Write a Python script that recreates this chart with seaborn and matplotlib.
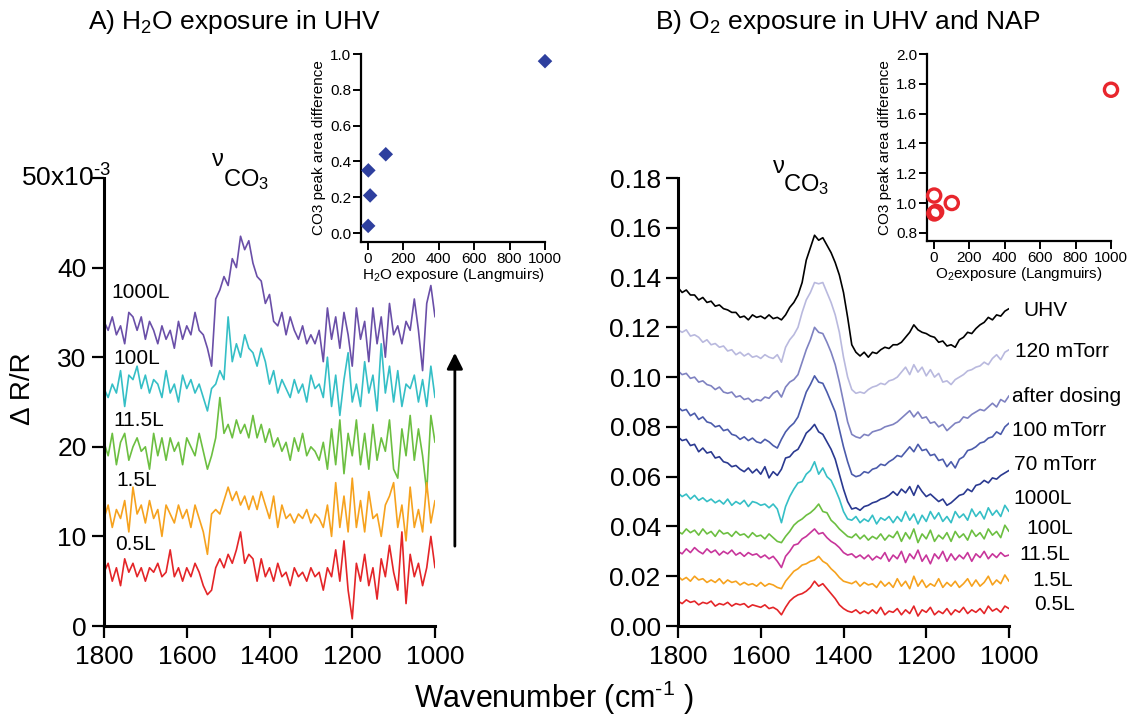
import numpy as np
import pandas as pd
import seaborn as sns
import matplotlib.pyplot as plt

W, H = 1129, 717

# x grid of the spectra (cm-1), 10 cm-1 steps
wavenumber = np.arange(1800, 999, -10)

# panel A - H2O exposure in UHV, dR/R in units of 1e-3
h2o_labels = ['1000L', '100L', '11.5L', '1.5L', '0.5L']
h2o_colors = ['#6a4fa8', '#35bfc6', '#6cbf41', '#f6a21e', '#e42528']
h2o_1000 = [34.0, 33.0, 34.5, 32.5, 33.5, 31.5, 35.0, 34.5, 33.0, 34.5,
            32.0, 34.0, 33.0, 31.5, 33.5, 32.0, 33.0, 31.0, 34.0, 32.0,
            33.5, 32.5, 35.0, 33.0, 32.5, 31.0, 29.0, 36.5, 37.5, 39.0,
            38.0, 41.0, 40.0, 43.5, 42.0, 43.0, 40.5, 39.0, 38.5, 36.0,
            37.0, 34.0, 33.5, 35.0, 32.5, 34.5, 33.0, 32.0, 33.5, 31.5,
            32.5, 31.5, 33.0, 29.5, 35.5, 32.0, 34.5, 31.0, 35.0, 32.5,
            29.0, 35.5, 32.0, 34.0, 29.5, 35.5, 31.5, 34.5, 30.0, 36.0,
            32.5, 33.5, 31.5, 34.0, 33.0, 36.5, 33.0, 28.5, 36.0, 38.0,
            34.5]
h2o_100 = [26.5, 25.5, 27.0, 26.0, 28.5, 24.5, 28.0, 27.5, 29.0, 26.5,
           28.0, 26.0, 27.5, 27.0, 25.5, 28.5, 26.0, 27.0, 25.0, 28.0,
           26.5, 27.5, 26.0, 27.0, 25.5, 24.0, 26.5, 27.0, 28.5, 27.5,
           34.5, 29.5, 31.5, 30.0, 32.5, 31.0, 30.5, 29.0, 31.0, 29.5,
           27.0, 28.5, 26.0, 27.5, 26.5, 25.5, 27.5, 26.0, 27.0, 25.0,
           28.0, 26.5, 27.0, 25.5, 30.0, 24.5, 28.0, 23.5, 27.5, 30.5,
           25.0, 27.0, 24.5, 29.5, 26.0, 28.0, 24.0, 31.5, 26.0, 29.0,
           25.0, 28.5, 24.5, 27.0, 26.5, 28.0, 25.0, 27.5, 24.5, 29.0,
           25.5]
h2o_11_5 = [20.5, 19.0, 21.5, 18.0, 20.5, 21.5, 18.5, 20.0, 21.0, 19.5,
            20.0, 17.5, 21.5, 19.0, 21.0, 18.5, 21.0, 19.5, 20.5, 18.0,
            21.0, 20.0, 19.0, 21.5, 19.5, 17.5, 19.0, 21.0, 25.5, 21.5,
            22.5, 21.0, 23.0, 21.5, 22.5, 21.0, 23.5, 21.0, 22.5, 20.5,
            22.0, 20.0, 21.0, 19.5, 20.5, 18.5, 21.0, 19.5, 21.5, 19.0,
            20.0, 19.5, 18.5, 20.5, 17.5, 22.0, 18.0, 23.0, 17.0, 21.5,
            19.0, 23.0, 18.0, 21.5, 17.5, 22.5, 18.5, 21.0, 19.5, 23.0,
            17.5, 16.5, 22.0, 19.0, 23.5, 18.5, 22.0, 19.0, 15.0, 23.5,
            20.5]
h2o_1_5 = [12.0, 13.5, 11.0, 13.0, 12.0, 14.0, 10.5, 15.5, 12.5, 13.5,
           11.5, 14.0, 12.0, 13.0, 10.0, 13.5, 12.5, 11.5, 13.5, 12.0,
           13.0, 11.0, 13.5, 12.0, 10.5, 8.0, 12.5, 13.0, 12.5, 14.0,
           15.5, 14.0, 15.0, 13.5, 14.5, 13.0, 14.5, 13.0, 15.0, 13.5,
           12.0, 14.5, 11.0, 13.5, 12.0, 12.5, 11.5, 12.5, 12.0, 13.0,
           11.5, 12.5, 12.0, 11.0, 13.5, 10.0, 16.0, 11.0, 14.5, 10.5,
           16.5, 11.0, 14.0, 10.5, 15.0, 12.0, 12.5, 10.0, 13.5, 14.5,
           16.0, 11.0, 13.5, 9.5, 15.5, 11.0, 13.0, 10.5, 16.0, 11.5,
           14.0]
h2o_0_5 = [6.0, 7.0, 5.0, 6.5, 4.5, 7.5, 6.0, 7.0, 5.5, 6.5,
           5.0, 6.5, 6.0, 7.0, 5.5, 6.0, 8.5, 5.5, 6.5, 5.0,
           6.5, 5.5, 7.0, 6.0, 4.5, 3.5, 4.0, 6.5, 7.5, 6.5,
           8.0, 7.0, 8.5, 10.5, 7.0, 8.0, 7.5, 5.0, 7.5, 5.5,
           6.5, 5.0, 7.0, 5.5, 6.0, 4.5, 6.5, 5.5, 6.0, 5.0,
           6.5, 5.5, 6.0, 4.0, 6.5, 5.5, 8.5, 5.0, 9.5, 4.0,
           0.8, 7.0, 5.0, 8.0, 4.5, 6.5, 3.0, 7.5, 5.5, 9.0,
           6.0, 4.0, 10.5, 2.5, 8.0, 5.5, 7.0, 4.5, 6.5, 10.0,
           6.5]

# panel B - O2 exposure in UHV and NAP, dR/R in units of 1e-3
o2_labels = ['UHV', '120 mTorr', 'after dosing', '100 mTorr', '70 mTorr',
             '1000L', '100L', '11.5L', '1.5L', '0.5L']
o2_colors = ['#000000', '#b9b9de', '#7f82c1', '#4b5bab', '#2a3990',
             '#35bfc6', '#6cbf41', '#c8359b', '#f6a21e', '#e42528']
o2_uhv = [136, 134, 135, 133, 133, 131, 132, 130, 130.5, 128.5,
          129, 127.5, 127, 126, 126, 124, 124.5, 123, 125, 124,
          124.5, 123.5, 125, 123.5, 124, 123, 125, 128, 130, 133,
          138, 147, 152, 157, 155, 156, 153, 150, 146, 141,
          134, 124, 113, 110, 108.5, 110, 108, 110, 109.5, 111,
          112, 111.5, 113, 113, 114, 116, 118, 121, 119, 118,
          117.5, 116.5, 116, 114, 114.5, 112.5, 113, 112, 115, 116,
          118, 117.5, 119.5, 121, 122, 124, 123, 125, 124.5, 126.5,
          127.5]
o2_120 = [119, 118, 119, 116.5, 117, 116, 114, 115, 113, 113.5,
          112, 112.5, 110.5, 111, 109, 110, 108.5, 109.5, 108, 108.5,
          107.5, 109, 108, 107.5, 109, 106, 112, 115, 117, 120,
          126, 131, 134, 138, 137.5, 138, 134, 130, 125, 118,
          108, 100, 95, 93.5, 94, 93.5, 95, 96, 96.5, 97.5,
          97, 98.5, 99, 100, 102, 104, 101, 105, 102, 104,
          100.5, 103, 100, 101.5, 98, 98.5, 97, 99, 100, 101,
          102.5, 103, 104, 104.5, 106, 105, 107.5, 109, 107, 110,
          111]
o2_after = [102.5, 101, 101.5, 99.5, 100, 98, 98.5, 97, 96.5, 95,
            96, 94, 93.5, 94, 92, 92.5, 91, 91.5, 90, 91,
            90.5, 92, 91.5, 93.5, 94.5, 92, 96, 98, 99, 101,
            106, 111, 115, 120, 118, 117.5, 114, 110, 105, 98,
            90, 82, 77, 76, 75.5, 77, 76.5, 78, 78.5, 79,
            80, 80.5, 81, 82, 83.5, 85, 86.5, 84, 86, 83.5,
            84, 81.5, 82, 80, 81, 78.5, 80, 81.5, 82, 84,
            83.5, 85, 86, 87, 86.5, 88, 89.5, 88, 91, 90,
            92.5]
o2_100m = [88, 86.5, 87, 84.5, 85.5, 83, 84, 82, 81.5, 80,
           80.5, 78.5, 79, 77, 76.5, 75, 76, 74.5, 75.5, 74,
           73.5, 75, 74, 72.5, 71.5, 75, 78, 80, 81.5, 84,
           89, 94, 97, 100.5, 98, 97.5, 94, 90, 86, 79,
           72, 66, 61, 60, 60.5, 62, 61.5, 63, 63.5, 65,
           64.5, 66, 67, 68.5, 68, 70, 72, 70, 73, 70.5,
           71, 68.5, 69, 66.5, 67, 64, 66, 63.5, 67, 68,
           70.5, 71, 72, 73.5, 74, 75.5, 76, 78, 77, 80,
           81.5]
o2_70m = [76, 74.5, 75, 72.5, 73, 70, 71.5, 69.5, 70, 67.5,
          68, 66, 65.5, 64, 64.5, 63, 62, 63.5, 61.5, 63,
          61, 64, 59.5, 62, 60.5, 63, 67.5, 68, 70, 71,
          74, 77.5, 79, 81, 78, 77, 74, 71, 67, 61,
          55, 50, 47, 47.5, 46.5, 48, 48.5, 49.5, 50, 51,
          51.5, 52.5, 54, 52.5, 55, 53.5, 56, 52.5, 56.5, 54,
          52, 53, 51.5, 50, 51, 48.5, 49.5, 51, 52.5, 53,
          55, 54, 56.5, 57, 58.5, 57.5, 59.5, 59, 60.5, 61.5,
          62.5]
o2_1000 = [53.5, 52, 53, 51, 52.5, 50.5, 51.5, 50, 51, 49.5,
           50.5, 49, 51, 48.5, 50, 49, 50.5, 48, 50, 49.5,
           48.5, 49, 47.5, 49, 47, 41.5, 48, 52, 55, 57.5,
           58, 61, 62.5, 66, 61, 63.5, 60, 58.5, 55, 51,
           46, 43, 42.5, 44, 41.5, 43, 42, 44.5, 41, 43.5,
           42.5, 44, 41.5, 44, 42, 46, 42.5, 45, 41, 44.5,
           42, 46, 43, 45.5, 42, 44, 41.5, 46, 43.5, 45,
           42.5, 47, 44, 46, 43, 47.5, 44.5, 46.5, 44, 48.5,
           46]
o2_100 = [38, 37, 39, 37.5, 38.5, 36.5, 39, 37, 38, 36,
          38.5, 37, 37.5, 36, 38, 36.5, 37, 35.5, 37.5, 36,
          36.5, 35, 37, 35.5, 34, 33.5, 36, 38, 40.5, 42,
          43, 44.5, 45.5, 47, 49, 46, 45.5, 42.5, 41, 39,
          37.5, 36, 35.5, 37, 35, 36.5, 34.5, 36, 35, 37,
          34.5, 36.5, 35.5, 38, 34, 37.5, 35, 39, 33.5, 37,
          35, 38.5, 34, 36.5, 35, 37.5, 34, 38, 35.5, 37,
          34.5, 38.5, 36, 37.5, 35, 39, 36.5, 38, 35.5, 40.5,
          38]
o2_11_5 = [30, 29, 31, 29.5, 31.5, 30, 29, 31, 29.5, 30.5,
           28.5, 30, 29, 30.5, 28.5, 29.5, 28, 29.5, 28.5, 29,
           27.5, 28.5, 27, 28, 26, 23.5, 28, 30, 32.5, 33,
           35, 36, 37.5, 39, 37, 37.5, 35.5, 34, 33, 31.5,
           29.5, 28.5, 29, 27.5, 28.5, 27, 28.5, 26.5, 28, 27,
           29.5, 26, 28.5, 27, 30, 25.5, 29, 27, 30.5, 26,
           28.5, 25, 29, 27, 30, 26, 29, 26.5, 28.5, 27,
           29.5, 26, 29, 27.5, 30, 27, 29, 27.5, 29.5, 28,
           28.5]
o2_1_5 = [20, 18.5, 19.5, 18, 20, 18.5, 19, 17.5, 18.5, 17.5,
          19, 17, 18.5, 17.5, 18, 16.5, 17.5, 16.5, 17, 16,
          17.5, 16, 17, 16.5, 15.5, 15, 18, 20, 22, 23,
          24.5, 25, 26, 26.5, 28, 26, 25, 23, 21.5, 19.5,
          18, 17.5, 17, 18, 16, 17.5, 16.5, 17, 15.5, 18,
          16, 17.5, 15.5, 19, 16, 18, 15, 20, 16, 18.5,
          15.5, 17, 16, 19, 15.5, 17.5, 16, 18, 15.5, 17,
          19, 16, 18.5, 16, 17.5, 20, 16.5, 18.5, 17, 20.5,
          18]
o2_0_5 = [10, 9, 10.5, 9.5, 10, 8.5, 9.5, 9, 10, 8,
          9, 8.5, 9.5, 8, 9, 8.5, 9, 7.5, 8.5, 8,
          7.5, 8.5, 7, 7.5, 6.5, 4.5, 7.5, 10, 11.5, 12.5,
          13, 14, 15.5, 18, 16, 17, 15, 13, 11, 8.5,
          7, 6, 5.5, 6.5, 5, 6, 5, 6.5, 5, 7.5,
          4.5, 6, 5.5, 7, 4.5, 6.5, 5, 8, 4, 6.5,
          5.5, 7.5, 4.5, 6, 5, 7, 4.5, 6.5, 5.5, 7.5,
          5, 6.5, 5.5, 7, 5, 8, 6, 7, 5.5, 8,
          7]

# insets: CO3 peak area difference vs exposure
exposure = [0.5, 1.5, 11.5, 100, 1000]
h2o_area = [0.04, 0.35, 0.21, 0.44, 0.96]
o2_area = [1.05, 0.93, 0.94, 1.00, 1.76]

sns.set_style('ticks')
plt.rcParams['font.family'] = ['Liberation Sans', 'DejaVu Sans']
plt.rcParams['mathtext.default'] = 'regular'
plt.rcParams.update({'text.color': 'black', 'axes.labelcolor': 'black',
                     'xtick.color': 'black', 'ytick.color': 'black',
                     'axes.edgecolor': 'black'})

fig = plt.figure(figsize=(W / 100, H / 100), dpi=100)


def box(l, t, r, b):
    return [l / W, 1 - b / H, (r - l) / W, (b - t) / H]


def ftext(x, y, s, **kw):
    fig.text(x / W, 1 - y / H, s, **kw)


axA = fig.add_axes(box(104, 178, 435, 626))
axB = fig.add_axes(box(678, 178, 1009, 626))
insA = fig.add_axes(box(361, 54, 545, 242))
insB = fig.add_axes(box(927, 54, 1111, 241))
for a in (axA, axB, insA, insB):
    a.set_facecolor('none')

n = len(wavenumber)
dfA = pd.DataFrame({
    'wavenumber': np.tile(wavenumber, len(h2o_labels)),
    'dRR': np.concatenate([h2o_1000, h2o_100, h2o_11_5, h2o_1_5, h2o_0_5]),
    'dose': np.repeat(h2o_labels, n),
})
dfB = pd.DataFrame({
    'wavenumber': np.tile(wavenumber, len(o2_labels)),
    'dRR': np.concatenate([o2_uhv, o2_120, o2_after, o2_100m, o2_70m,
                           o2_1000, o2_100, o2_11_5, o2_1_5, o2_0_5]) / 1000,
    'dose': np.repeat(o2_labels, n),
})

sns.lineplot(data=dfA, x='wavenumber', y='dRR', hue='dose', hue_order=h2o_labels,
             palette=dict(zip(h2o_labels, h2o_colors)), estimator=None, sort=False,
             legend=False, lw=1.2, ax=axA)
sns.lineplot(data=dfB, x='wavenumber', y='dRR', hue='dose', hue_order=o2_labels,
             palette=dict(zip(o2_labels, o2_colors)), estimator=None, sort=False,
             legend=False, lw=1.2, ax=axB)

for a in (axA, axB):
    a.set_xlim(1800, 1000)
    a.set_xticks([1800, 1600, 1400, 1200, 1000])
    a.set_xlabel('')
    a.set_ylabel('')
    sns.despine(ax=a)
    for s in ('left', 'bottom'):
        a.spines[s].set_linewidth(2.2)
    a.tick_params(direction='out', length=8.5, width=1.6, labelsize=19, pad=4)
    a.tick_params(axis='x', pad=5)

axA.set_ylim(0, 50)
axA.set_yticks([0, 10, 20, 30, 40, 50])
axA.set_yticklabels(['0', '10', '20', '30', '40', ''])
# hyphen (U+2010) so the exponent keeps the short dash of the original
axA.text(0.02, 50, '50x10$^{\u20103}$', transform=axA.get_yaxis_transform(),
         ha='right', va='center', fontsize=19)

axB.set_ylim(0, 0.18)
axB.set_yticks(np.arange(0, 0.181, 0.02))
axB.set_yticklabels([f'{v:.2f}' for v in np.arange(0, 0.181, 0.02)])

# arrow: increasing exposure
axA.annotate('', xy=(952, 30.8), xytext=(952, 8.6),
             arrowprops=dict(arrowstyle='-|>', color='black', lw=2, mutation_scale=24),
             annotation_clip=False)

# insets
sns.scatterplot(x=exposure, y=h2o_area, marker='D', s=55, color='#2e3f9e',
                edgecolor='none', clip_on=False, zorder=5, ax=insA)
sns.scatterplot(x=exposure, y=o2_area, marker='o', s=90, facecolor='none',
                edgecolor='#e8262d', linewidth=2.4, clip_on=False, zorder=5, ax=insB)

insA.set_ylim(-0.05, 1.0)
insA.set_yticks(np.arange(0, 1.01, 0.2))
insA.set_yticklabels([f'{v:.1f}' for v in np.arange(0, 1.01, 0.2)])
insB.set_ylim(0.745, 2.0)
insB.set_yticks(np.arange(0.8, 2.01, 0.2))
insB.set_yticklabels([f'{v:.1f}' for v in np.arange(0.8, 2.01, 0.2)])
insA.set_xlabel('H$_2$O exposure (Langmuirs)', fontsize=11, labelpad=0)
insB.set_xlabel('O$_2$exposure (Langmuirs)', fontsize=11, labelpad=0)
for a in (insA, insB):
    a.set_xlim(-40, 1000)
    a.set_xticks([0, 200, 400, 600, 800, 1000])
    a.set_ylabel('CO3 peak area difference', fontsize=11, labelpad=3)
    sns.despine(ax=a)
    for s in ('left', 'bottom'):
        a.spines[s].set_linewidth(1.6)
    a.tick_params(direction='out', length=5.5, width=1.4, labelsize=11, pad=1.5)

# trace labels
for lab, y, x in zip(h2o_labels, [293, 359, 421, 481, 545], [111, 113, 113, 116, 115]):
    ftext(x, y, lab, ha='left', va='center', fontsize=15)
for lab, y, x in zip(o2_labels, [310, 352, 397, 431, 465, 499, 528, 554, 581, 605],
                     [1023, 1015, 1012, 1012, 1014, 1013, 1026, 1019, 1032, 1034]):
    ftext(x, y, lab, ha='left', va='center', fontsize=15)

# nu CO3 annotations
for xn, yn, xc, yc in [(218, 160, 223, 186), (779, 167, 783, 191)]:
    ftext(xn, yn, 'ν', ha='center', va='center', fontsize=17)
    ftext(xc, yc, 'CO$_3$', ha='left', va='baseline', fontsize=17)

# titles and shared labels
ftext(235, 22, 'A) H$_2$O exposure in UHV', ha='center', va='center', fontsize=19)
ftext(848, 22, 'B) O$_2$ exposure in UHV and NAP', ha='center', va='center', fontsize=19)
ftext(23, 389, 'Δ R/R', rotation=90, ha='center', va='center', fontsize=20)
ftext(554, 698, 'Wavenumber (cm$^{\u20101}$ )', ha='center', va='center', fontsize=22)

fig.savefig('out.png', dpi=100)
